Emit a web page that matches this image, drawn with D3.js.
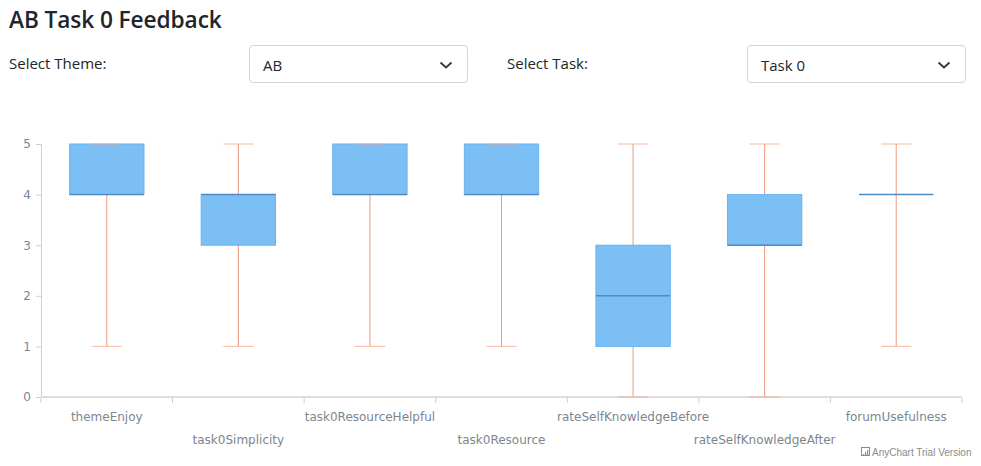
<!DOCTYPE html>
<html>
<head>
<meta charset="utf-8">
<script src="https://cdn.jsdelivr.net/npm/d3@7/dist/d3.min.js"></script>
<style>
  html, body { margin: 0; padding: 0; background: #fff; width: 981px; height: 466px; overflow: hidden; }
  body { position: relative; font-family: "Open Sans", "Noto Sans", sans-serif; color: #212529; }
  .title { position: absolute; left: 9px; top: 4px; font-size: 22.7px; font-weight: 600; letter-spacing: -0.1px; }
  .lbl { position: absolute; font-size: 15px; top: 53px; }
  .sel { position: absolute; top: 45px; width: 219px; height: 38px; border: 1px solid #ced4da; border-radius: 4px; box-sizing: border-box; font-size: 15px; }
  .sel span { position: absolute; left: 13px; top: 9px; }
  .sel svg { position: absolute; right: 14px; top: 13px; }
  #chart { position: absolute; left: 0; top: 0; }
</style>
</head>
<body>
<div class="title">AB Task 0 Feedback</div>
<div class="lbl" style="left:9px">Select Theme:</div>
<div class="sel" style="left:249px"><span>AB</span><svg width="14" height="12" viewBox="0 0 14 12"><path d="M1.5 3.5 L7 8.5 L12.5 3.5" fill="none" stroke="#343a40" stroke-width="1.8"/></svg></div>
<div class="lbl" style="left:507px">Select Task:</div>
<div class="sel" style="left:747px"><span>Task 0</span><svg width="14" height="12" viewBox="0 0 14 12"><path d="M1.5 3.5 L7 8.5 L12.5 3.5" fill="none" stroke="#343a40" stroke-width="1.8"/></svg></div>
<svg id="chart" width="981" height="466"></svg>
<script>
const categories = ["themeEnjoy","task0Simplicity","task0ResourceHelpful","task0Resource","rateSelfKnowledgeBefore","rateSelfKnowledgeAfter","forumUsefulness"];
const lows    = [1, 1, 1, 1, 0, 0, 1];
const q1s     = [4, 3, 4, 4, 1, 3, 4];
const medians = [4, 4, 4, 4, 2, 3, 4];
const q3s     = [5, 4, 5, 5, 3, 4, 4];
const highs   = [5, 5, 5, 5, 5, 5, 5];
const yTicks  = [0, 1, 2, 3, 4, 5];

const data = categories.map((c, i) => ({c, low: lows[i], q1: q1s[i], med: medians[i], q3: q3s[i], high: highs[i]}));

const svg = d3.select("#chart");
const pLeft = 41, pRight = 962, pTop = 144, pBottom = 397;
const x = d3.scaleBand().domain(categories).range([pLeft, pRight]).paddingInner(0).paddingOuter(0);
const y = d3.scaleLinear().domain([0, 5]).range([pBottom, pTop]);
const labelFont = "'DejaVu Sans', Verdana, sans-serif";
const labelColor = "#7c868e";

// Y axis
const gy = svg.append("g").attr("transform", `translate(${pLeft},0)`)
  .call(d3.axisLeft(y).tickValues(yTicks).tickSize(5).tickPadding(5).tickFormat(d3.format("d")));
gy.select(".domain").attr("stroke", "#cfcfcf").attr("stroke-width", 1);
gy.selectAll(".tick line").attr("stroke", "#cfcfcf");
gy.selectAll(".tick text").attr("fill", labelColor).style("font-family", labelFont).style("font-size", "12px");

// X axis
const gx = svg.append("g").attr("transform", `translate(0,${pBottom})`);
gx.append("line").attr("x1", pLeft).attr("x2", pRight).attr("y1", 0).attr("y2", 0).attr("stroke", "#dddddd").attr("stroke-width", 2);
const edges = categories.map(c => x(c)).concat([pRight]);
gx.selectAll("line.tk").data(edges).join("line").attr("class", "tk")
  .attr("x1", d => d).attr("x2", d => d).attr("y1", 1).attr("y2", 6).attr("stroke", "#cfcfcf");
gx.selectAll("text").data(categories).join("text")
  .attr("x", d => x(d) + x.bandwidth() / 2)
  .attr("y", (d, i) => i % 2 === 0 ? 23.5 : 47)
  .attr("text-anchor", "middle")
  .attr("fill", labelColor)
  .style("font-family", labelFont).style("font-size", "12px")
  .text(d => d);

// boxes
const bw = x.bandwidth() * 0.565;
const cw = x.bandwidth() * 0.23;
const g = svg.append("g");
data.forEach(d => {
  const cx = x(d.c) + x.bandwidth() / 2;
  g.append("line").attr("x1", cx).attr("x2", cx).attr("y1", y(d.high)).attr("y2", y(d.low)).attr("stroke", "#f09880").attr("stroke-width", 1);
  g.append("rect").attr("x", cx - bw / 2).attr("width", bw)
    .attr("y", y(d.q3)).attr("height", Math.max(0, y(d.q1) - y(d.q3)))
    .attr("fill", "#7cbff5").attr("stroke", "#66b3f0").attr("stroke-width", 1);
  g.append("line").attr("x1", cx - bw / 2).attr("x2", cx + bw / 2).attr("y1", y(d.med)).attr("y2", y(d.med))
    .attr("stroke", "#4f8cc6").attr("stroke-width", 1.5);
  g.append("line").attr("x1", cx - cw / 2).attr("x2", cx + cw / 2).attr("y1", y(d.high)).attr("y2", y(d.high)).attr("stroke", "#f5a792").attr("stroke-width", 1).attr("stroke-opacity", 0.8);
  g.append("line").attr("x1", cx - cw / 2).attr("x2", cx + cw / 2).attr("y1", y(d.low)).attr("y2", y(d.low)).attr("stroke", "#f5a792").attr("stroke-width", 1).attr("stroke-opacity", 0.8);
});

// credits
const cr = svg.append("g").attr("transform", "translate(861,447)");
cr.append("rect").attr("x", 0.5).attr("y", 0.5).attr("width", 8).attr("height", 8).attr("fill", "none").attr("stroke", "#8a8a8a");
[[2,5],[4,3],[6,1]].forEach(([xx,h]) => cr.append("rect").attr("x", xx).attr("y", 2 + h).attr("width", 1.2).attr("height", 6 - h).attr("fill", "#8a8a8a"));
cr.append("text").attr("x", 11).attr("y", 9).attr("fill", "#8a8a8a").style("font-family", "'Liberation Sans', Arial, sans-serif").style("font-size", "10px").text("AnyChart Trial Version");
</script>
</body>
</html>
